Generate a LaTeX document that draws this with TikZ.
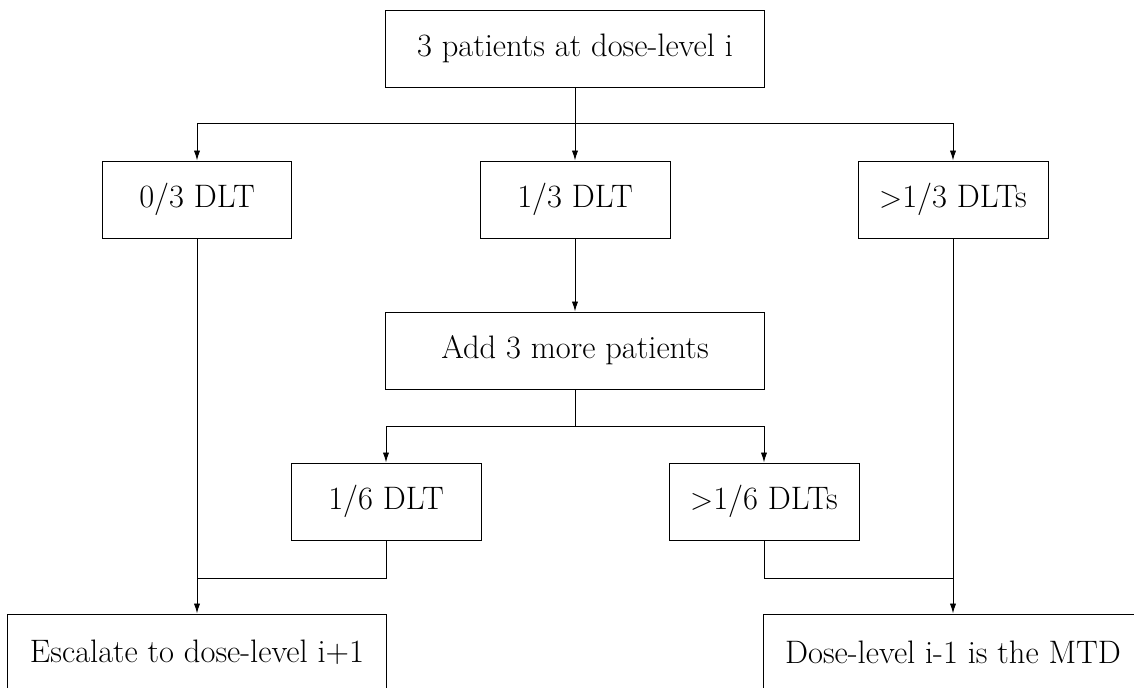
\documentclass[tikz,border=0pt]{standalone}
\usetikzlibrary{arrows.meta}
\begin{document}
\begin{tikzpicture}[x=0.02cm,y=-0.02cm,
  line width=0.55pt,
  bigbox/.style={draw,rectangle,minimum width=7.6cm,minimum height=1.54cm,inner sep=0pt,font=\fontsize{18.5}{22}\selectfont},
  smallbox/.style={draw,rectangle,minimum width=3.8cm,minimum height=1.54cm,inner sep=0pt,font=\fontsize{18.5}{22}\selectfont},
  arr/.style={-{Latex[length=5.7pt,width=3.6pt]}}]
\useasboundingbox (0,0) rectangle (1134,688);
\node[bigbox] (top) at (575,48.5) {3 patients at dose-level i};
\node[smallbox] (n0) at (197,199.5) {0/3 DLT};
\node[smallbox] (n1) at (575,199.5) {1/3 DLT};
\node[smallbox] (n2) at (953,199.5) {$>$1/3 DLTs};
\node[bigbox] (add) at (575,350.5) {Add 3 more patients};
\node[smallbox] (s1) at (386,501.5) {1/6 DLT};
\node[smallbox] (s2) at (764,501.5) {$>$1/6 DLTs};
\node[bigbox] (esc) at (197,652.5) {Escalate to dose-level i+1};
\node[bigbox] (mtd) at (953,652.5) {Dose-level i-1 is the MTD};
\coordinate (b1) at (575,123);
\coordinate (b2) at (575,426);
\coordinate (j1) at (197,578);
\coordinate (j2) at (953,578);
\draw[arr] (top) -- (n1);
\draw[arr] (b1) -| (n0.north);
\draw[arr] (b1) -| (n2.north);
\draw[arr] (n1) -- (add);
\draw (add.south) -- (b2);
\draw[arr] (b2) -| (s1.north);
\draw[arr] (b2) -| (s2.north);
\draw[arr] (n0) -- (esc);
\draw[arr] (n2) -- (mtd);
\draw (s1.south) |- (j1);
\draw (s2.south) |- (j2);
\end{tikzpicture}
\end{document}
